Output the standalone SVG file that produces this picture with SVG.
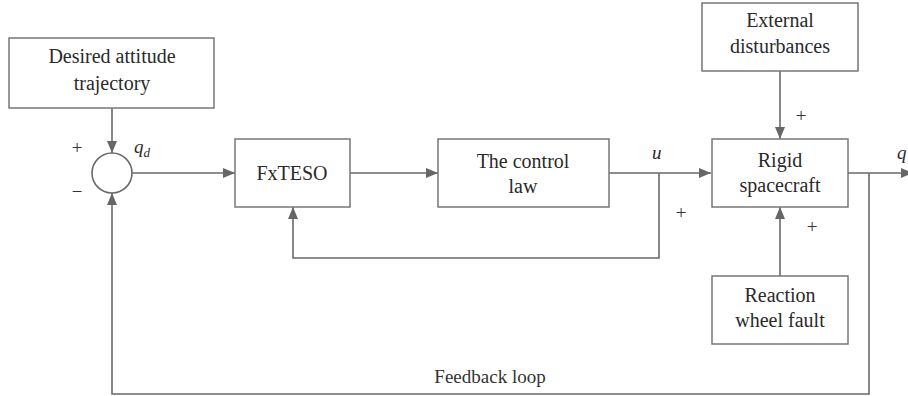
<svg xmlns="http://www.w3.org/2000/svg" width="908" height="396" viewBox="0 0 908 396" font-family="'Liberation Serif', 'Times New Roman', serif">
<defs>
<marker id="ah" markerWidth="12" markerHeight="10" refX="12" refY="5" orient="auto" markerUnits="userSpaceOnUse">
<path d="M0,0 L12,5 L0,10 Z" fill="#666"/>
</marker>
<style>
.box{fill:#fff;stroke:#777;stroke-width:1.5}
.ln{fill:none;stroke:#6a6a6a;stroke-width:1.6}
text{font-family:'Liberation Serif','Times New Roman',serif}
.t{font-size:20px;fill:#2a2a2a;text-anchor:middle}
.s{font-size:19px;fill:#333;text-anchor:middle}
.i{font-size:19px;font-style:italic;fill:#2a2a2a}
</style>
</defs>
<rect width="908" height="396" fill="#fff"/>
<g id="connectors">
<path class="ln" d="M112,108 V153" marker-end="url(#ah)"/>
<path class="ln" d="M132,173 H235" marker-end="url(#ah)"/>
<path class="ln" d="M350,173 H438" marker-end="url(#ah)"/>
<path class="ln" d="M609,173 H711" marker-end="url(#ah)"/>
<path class="ln" d="M659,173 V258 H293 V207" marker-end="url(#ah)"/>
<path class="ln" d="M780,71 V139" marker-end="url(#ah)"/>
<path class="ln" d="M780,276 V207" marker-end="url(#ah)"/>
<path class="ln" d="M848,173 H913" marker-end="url(#ah)"/>
<path class="ln" d="M869,173 V394 H112 V193" marker-end="url(#ah)"/>
</g>
<g id="desired">
<rect class="box" x="9" y="38" width="205" height="70"/>
<text class="t" x="112" y="63">Desired attitude</text>
<text class="t" x="112" y="90">trajectory</text>
</g>
<g id="sum">
<circle cx="112" cy="173" r="20" fill="#fff" stroke="#6a6a6a" stroke-width="1.6"/>
</g>
<g id="fxteso">
<rect class="box" x="235" y="139" width="115" height="68"/>
<text class="t" x="292" y="180">FxTESO</text>
</g>
<g id="control">
<rect class="box" x="438" y="139" width="171" height="68"/>
<text class="t" x="523" y="168">The control</text>
<text class="t" x="523" y="193">law</text>
</g>
<g id="rigid">
<rect class="box" x="712" y="139" width="136" height="68"/>
<text class="t" x="780" y="167">Rigid</text>
<text class="t" x="780" y="192">spacecraft</text>
</g>
<g id="external">
<rect class="box" x="702" y="3" width="156" height="68"/>
<text class="t" x="780" y="27">External</text>
<text class="t" x="780" y="53">disturbances</text>
</g>
<g id="reaction">
<rect class="box" x="712" y="276" width="136" height="68"/>
<text class="t" x="780" y="302">Reaction</text>
<text class="t" x="780" y="327">wheel fault</text>
</g>
<g id="labels">
<text class="s" x="77" y="154">+</text>
<text class="s" x="77" y="198">−</text>
<text class="i" x="134" y="153">q<tspan font-size="13" dy="4">d</tspan></text>
<text class="i" x="652" y="159">u</text>
<text class="s" x="681" y="219">+</text>
<text class="s" x="801" y="122">+</text>
<text class="s" x="812" y="233">+</text>
<text class="i" x="897" y="159">q</text>
<text class="s" x="490" y="383">Feedback loop</text>
</g>
</svg>
